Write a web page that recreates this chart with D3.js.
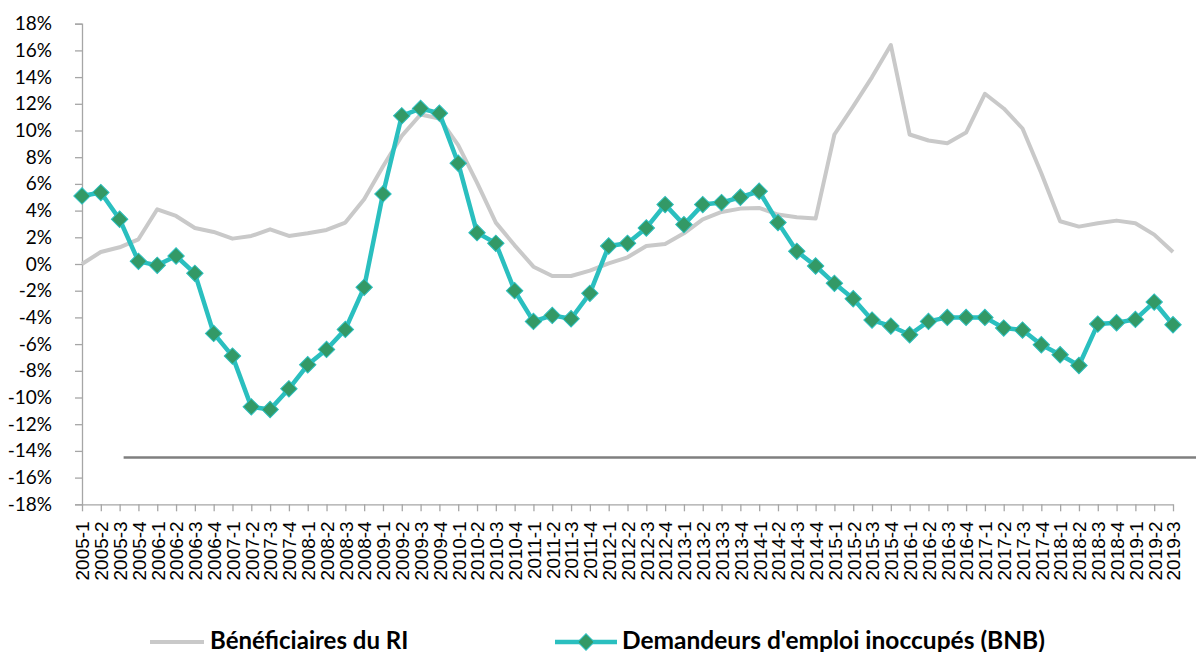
<!DOCTYPE html>
<html><head><meta charset="utf-8">
<script src="https://cdn.jsdelivr.net/npm/d3@7"></script>
<style>
html,body{margin:0;padding:0;background:#fff;}
svg{display:block;}
</style></head>
<body>
<svg id="c" width="1196" height="652"></svg>
<script>
const categories = ["2005-1","2005-2","2005-3","2005-4","2006-1","2006-2","2006-3","2006-4","2007-1","2007-2","2007-3","2007-4","2008-1","2008-2","2008-3","2008-4","2009-1","2009-2","2009-3","2009-4","2010-1","2010-2","2010-3","2010-4","2011-1","2011-2","2011-3","2011-4","2012-1","2012-2","2012-3","2012-4","2013-1","2013-2","2013-3","2013-4","2014-1","2014-2","2014-3","2014-4","2015-1","2015-2","2015-3","2015-4","2016-1","2016-2","2016-3","2016-4","2017-1","2017-2","2017-3","2017-4","2018-1","2018-2","2018-3","2018-4","2019-1","2019-2","2019-3"];

const beneficiairesRI = [0.0,0.9,1.25,1.85,4.1,3.6,2.7,2.4,1.9,2.1,2.6,2.1,2.3,2.55,3.1,4.85,7.3,9.6,11.2,10.9,8.9,6.1,3.1,1.4,-0.2,-0.9,-0.9,-0.5,0.05,0.5,1.35,1.5,2.3,3.35,3.9,4.15,4.2,3.7,3.5,3.4,9.7,11.8,14.0,16.4,9.7,9.25,9.05,9.85,12.75,11.65,10.15,6.8,3.2,2.8,3.05,3.25,3.05,2.2,0.9];

const demandeursBNB = [5.1,5.35,3.35,0.2,-0.1,0.6,-0.7,-5.2,-6.9,-10.7,-10.9,-9.35,-7.55,-6.4,-4.9,-1.75,5.25,11.1,11.65,11.3,7.55,2.35,1.55,-2.0,-4.3,-3.85,-4.1,-2.2,1.35,1.55,2.7,4.45,2.95,4.45,4.6,5.0,5.45,3.1,0.95,-0.15,-1.45,-2.6,-4.2,-4.65,-5.3,-4.3,-4.0,-4.0,-4.0,-4.8,-4.95,-6.05,-6.8,-7.6,-4.5,-4.4,-4.15,-2.85,-4.55];

const yTicks = [-18,-16,-14,-12,-10,-8,-6,-4,-2,0,2,4,6,8,10,12,14,16,18];
const refLine = {value: -14.5, start: "2005-3"};
const seriesNames = ["Bénéficiaires du RI", "Demandeurs d'emploi inoccupés (BNB)"];

const W = 1196, H = 652;
const svg = d3.select("#c");
const x = d3.scalePoint().domain(categories).range([82, 1173]).padding(0);
const y = d3.scaleLinear().domain([-18, 18]).range([504.3, 23.7]);

const axisColor = "#A6A6A6";
const grayCol = "#C9C9C9", tealCol = "#2ABFBF", markCol = "#339966";

// y axis
const gy = svg.append("g").attr("transform", "translate(82,0)")
  .call(d3.axisLeft(y).tickValues(yTicks).tickFormat(d => d + "%").tickSize(7).tickPadding(23));
gy.select(".domain").attr("stroke", axisColor).attr("stroke-width", 1.3);
gy.selectAll(".tick line").attr("stroke", axisColor).attr("stroke-width", 1.3);
gy.selectAll(".tick text").attr("font-family", "Lato, 'Open Sans', sans-serif").attr("font-size", 19).attr("fill", "#000");

// x axis
const gx = svg.append("g").attr("transform", "translate(0," + y(-18) + ")")
  .call(d3.axisBottom(x).tickSize(7).tickSizeOuter(0));
gx.select(".domain").attr("stroke", axisColor).attr("stroke-width", 1.3);
gx.selectAll(".tick line").attr("stroke", axisColor).attr("stroke-width", 1.3);
gx.selectAll(".tick text")
  .attr("font-family", "'Liberation Sans', Arial, sans-serif").attr("font-size", 19).attr("fill", "#000")
  .attr("transform", "rotate(-90)").attr("text-anchor", "end")
  .attr("x", -17).attr("y", 0).attr("dy", "0.36em");

// reference line
svg.append("line")
  .attr("x1", x(refLine.start) + 4).attr("x2", W)
  .attr("y1", y(refLine.value)).attr("y2", y(refLine.value))
  .attr("stroke", "#7F7F7F").attr("stroke-width", 2.5);

const line = d3.line().x((d, i) => x(categories[i])).y(d => y(d));

svg.append("path").datum(beneficiairesRI).attr("d", line)
  .attr("fill", "none").attr("stroke", grayCol).attr("stroke-width", 4).attr("stroke-linejoin", "round");

svg.append("path").datum(demandeursBNB).attr("d", line)
  .attr("fill", "none").attr("stroke", tealCol).attr("stroke-width", 4.5).attr("stroke-linejoin", "round");

const sq = d3.symbol().type(d3.symbolSquare).size(135);
svg.append("g").selectAll("path").data(demandeursBNB).join("path")
  .attr("d", sq)
  .attr("transform", (d, i) => "translate(" + x(categories[i]) + "," + y(d) + ") rotate(45)")
  .attr("fill", markCol).attr("stroke", tealCol).attr("stroke-width", 1);

// legend
const lg = svg.append("g");
const ly = 642;
lg.append("line").attr("x1", 150).attr("x2", 204).attr("y1", ly).attr("y2", ly)
  .attr("stroke", grayCol).attr("stroke-width", 4);
lg.append("text").attr("x", 210).attr("y", 648.5).text(seriesNames[0])
  .attr("font-family", "Lato, 'Open Sans', sans-serif").attr("font-weight", "bold").attr("font-size", 24).attr("fill", "#000");
lg.append("line").attr("x1", 555).attr("x2", 617).attr("y1", ly).attr("y2", ly)
  .attr("stroke", tealCol).attr("stroke-width", 4.5);
lg.append("path").attr("d", sq).attr("transform", "translate(586," + ly + ") rotate(45)")
  .attr("fill", markCol).attr("stroke", tealCol).attr("stroke-width", 1);
lg.append("text").attr("x", 622).attr("y", 648.5).text(seriesNames[1])
  .attr("font-family", "Lato, 'Open Sans', sans-serif").attr("font-weight", "bold").attr("font-size", 24.5).attr("fill", "#000");
</script>
</body></html>
